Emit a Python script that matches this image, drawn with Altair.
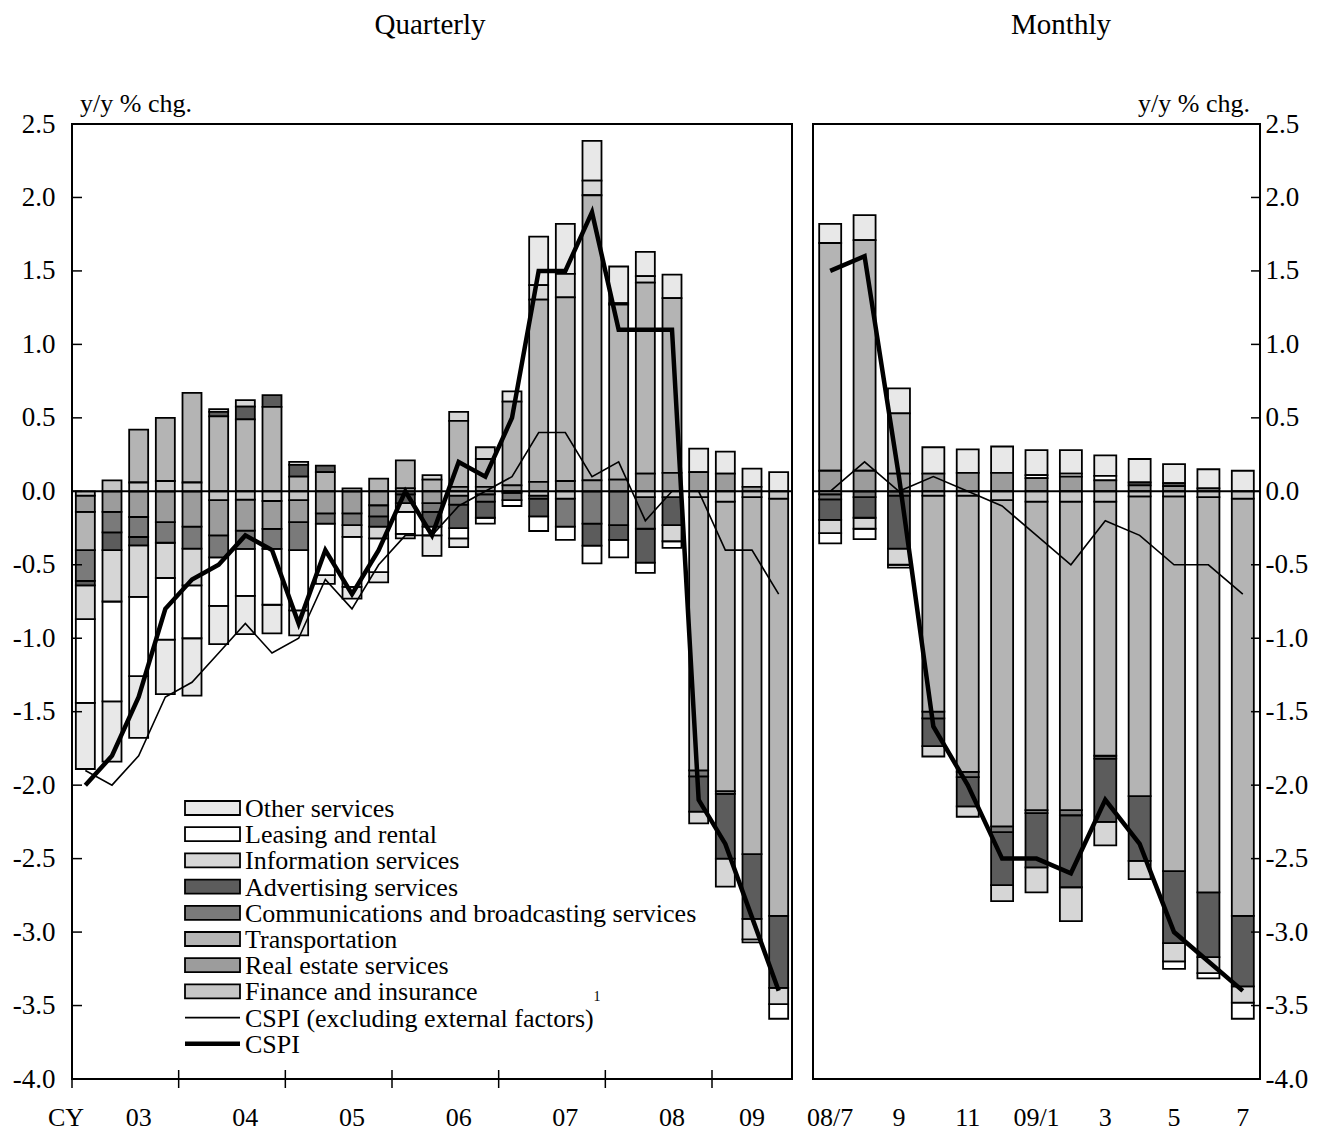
import altair as alt
import pandas as pd

FONT = "Times New Roman, Liberation Serif, DejaVu Serif, serif"

quarters = ["2003Q1", "2003Q2", "2003Q3", "2003Q4", "2004Q1", "2004Q2", "2004Q3", "2004Q4",
            "2005Q1", "2005Q2", "2005Q3", "2005Q4", "2006Q1", "2006Q2", "2006Q3", "2006Q4",
            "2007Q1", "2007Q2", "2007Q3", "2007Q4", "2008Q1", "2008Q2", "2008Q3", "2008Q4",
            "2009Q1", "2009Q2", "2009Q3"]
months = ["2008-07", "2008-08", "2008-09", "2008-10", "2008-11", "2008-12", "2009-01",
          "2009-02", "2009-03", "2009-04", "2009-05", "2009-06", "2009-07"]

# legend order (top -> bottom); stacking goes the other way (finance nearest zero)
categories = ["Other services", "Leasing and rental", "Information services",
              "Advertising services", "Communications and broadcasting services",
              "Transportation", "Real estate services", "Finance  and  insurance"]
cat_colors = ["#e8e8e8", "#ffffff", "#d6d6d6", "#5c5c5c", "#7a7a7a", "#b4b4b4", "#9c9c9c", "#c6c6c6"]

# ---- quarterly contributions (y/y % chg.) ----
q_other = [-0.45, -0.41, -0.42, -0.37, -0.39, -0.26, -0.26, -0.195, -0.17, -0.06, -0.08, -0.07, -0.03, -0.14,
           -0.06, 0, 0.07, 0.33, 0.34, 0.27, 0.25, 0.165, 0.16, 0.16, 0.15, 0.125, 0.13]
q_leasing = [-0.57, -0.68, -0.54, -0.42, -0.36, -0.33, -0.32, -0.38, -0.41, -0.35, -0.34, -0.23, -0.15, -0.06,
             -0.07, -0.04, -0.04, -0.10, -0.09, -0.12, -0.12, -0.07, -0.045, 0, 0, -0.02, -0.10]
q_info = [-0.23, -0.35, -0.35, -0.24, -0.25, 0.02, 0.045, 0, 0.02, 0, -0.08, -0.08, -0.06, 0.03,
          0.06, 0.08, 0, 0.10, 0.16, 0.10, 0.01, 0.045, -0.11, -0.08, -0.19, -0.14, -0.11]
q_advert = [-0.03, -0.12, -0.057, 0, 0, 0.03, 0.086, 0.08, 0.08, 0.045, 0, -0.07, -0.06, -0.10,
            -0.16, -0.11, 0, -0.12, 0, -0.15, -0.10, -0.23, -0.19, -0.24, -0.44, -0.44, -0.49]
q_comm = [-0.21, -0.14, -0.136, -0.14, -0.15, -0.15, -0.125, -0.136, -0.19, -0.07, -0.08, -0.075, 0, -0.06,
          -0.06, -0.05, -0.05, -0.02, -0.19, -0.22, -0.23, -0.215, 0, -0.04, -0.02, 0, 0]
q_transport = [-0.26, 0, 0.36, 0.43, 0.61, 0.51, 0.49, 0.574, 0.10, 0.13, 0, 0.086, 0.19, 0.08,
               0.45, 0.19, 0.57, 1.24, 1.25, 1.94, 1.19, 1.30, 1.19, -1.86, -1.97, -2.43, -2.84]
q_realestate = [-0.11, -0.14, -0.175, -0.21, -0.24, -0.24, -0.21, -0.19, -0.15, -0.15, -0.15, -0.095, -0.02, -0.08,
                0.03, 0.03, 0.04, 0.064, 0.07, 0.075, 0.08, 0.12, 0.125, 0.13, 0.12, 0.03, 0]
q_finance = [-0.03, 0.075, 0.06, 0.07, 0.06, -0.06, -0.057, -0.066, -0.06, 0, 0.02, 0, 0.02, 0,
             -0.03, -0.02, -0.01, -0.03, -0.05, 0, 0, -0.04, -0.04, -0.04, -0.07, -0.04, -0.05]
q_cspi = [-2.0, -1.8, -1.4, -0.8, -0.6, -0.5, -0.3, -0.4, -0.9, -0.4, -0.7, -0.4, 0.0, -0.3,
          0.2, 0.1, 0.5, 1.5, 1.5, 1.9, 1.1, 1.1, 1.1, -2.1, -2.4, -2.9, -3.4]
q_cspi_ex = [-1.9, -2.0, -1.8, -1.4, -1.3, -1.1, -0.9, -1.1, -1.0, -0.6, -0.8, -0.5, -0.3, -0.3,
             -0.1, 0.0, 0.1, 0.4, 0.4, 0.1, 0.2, -0.2, 0.0, 0.0, -0.4, -0.4, -0.7]

# ---- monthly contributions ----
m_other = [0.13, 0.17, 0.17, 0.18, 0.16, 0.18, 0.17, 0.16, 0.14, 0.16, 0.13, 0.13, 0.14]
m_leasing = [-0.07, -0.07, -0.02, 0, 0, 0, 0.02, 0.02, 0.03, 0, -0.05, -0.035, -0.11]
m_info = [-0.09, -0.075, -0.11, -0.07, -0.07, -0.11, -0.17, -0.23, -0.16, -0.125, -0.125, -0.11, -0.11]
m_advert = [-0.14, -0.14, -0.36, -0.19, -0.20, -0.36, -0.37, -0.49, -0.43, -0.44, -0.49, -0.44, -0.48]
m_comm = [-0.035, -0.04, -0.03, -0.045, -0.035, -0.04, -0.02, -0.035, -0.02, 0.02, 0.02, 0, 0]
m_transport = [1.55, 1.57, 0.41, -1.47, -1.88, -2.22, -2.10, -2.10, -1.73, -2.04, -2.55, -2.69, -2.84]
m_realestate = [0.14, 0.14, 0.12, 0.12, 0.125, 0.125, 0.09, 0.10, 0.075, 0.04, 0.035, 0.02, 0]
m_finance = [-0.02, 0, 0, -0.03, -0.03, -0.06, -0.07, -0.07, -0.07, -0.035, -0.035, -0.04, -0.05]
m_cspi = [1.5, 1.6, 0.1, -1.6, -2.0, -2.5, -2.5, -2.6, -2.1, -2.4, -3.0, -3.2, -3.4]
m_cspi_ex = [0.0, 0.2, 0.0, 0.1, 0.0, -0.1, -0.3, -0.5, -0.2, -0.3, -0.5, -0.5, -0.7]

y_ticks = [-4.0, -3.5, -3.0, -2.5, -2.0, -1.5, -1.0, -0.5, 0.0, 0.5, 1.0, 1.5, 2.0, 2.5]
q_label_periods = ["2003Q3", "2004Q3", "2005Q3", "2006Q3", "2007Q3", "2008Q3", "2009Q2"]
q_labels = ["03", "04", "05", "06", "07", "08", "09"]
q_year_starts = ["2003Q1", "2004Q1", "2005Q1", "2006Q1", "2007Q1", "2008Q1", "2009Q1"]
m_label_periods = ["2008-07", "2008-09", "2008-11", "2009-01", "2009-03", "2009-05", "2009-07"]
m_labels = ["08/7", "9", "11", "09/1", "3", "5", "7"]

legend_lines = ["CSPI (excluding external factors)", "CSPI"]

H = 955
WQ = 720
WM = 447


def long_df(periods, series):
    rows = []
    for k, cat in enumerate(categories):
        order = len(categories) - 1 - k
        for p, v in zip(periods, series[k]):
            rows.append({"period": p, "cat": cat, "value": v, "order": order})
    return pd.DataFrame(rows)


q_df = long_df(quarters, [q_other, q_leasing, q_info, q_advert, q_comm, q_transport, q_realestate, q_finance])
m_df = long_df(months, [m_other, m_leasing, m_info, m_advert, m_comm, m_transport, m_realestate, m_finance])
q_lines = pd.DataFrame({"period": quarters, "cspi": q_cspi, "cspi_ex": q_cspi_ex})
m_lines = pd.DataFrame({"period": months, "cspi": m_cspi, "cspi_ex": m_cspi_ex})
one = pd.DataFrame({"a": [0]})

yscale = alt.Scale(domain=[-4.0, 2.5], nice=False, zero=False)
label_expr = "(datum.value < 0 ? '-' : '') + format(abs(datum.value), '.1f')"


def yaxis(orient, pad):
    return alt.Axis(values=y_ticks, orient=orient, ticks=False, domain=False, grid=False,
                    labelPadding=pad, title=None, labelFont=FONT, labelFontSize=27,
                    labelColor="black", labelOverlap=False, labelExpr=label_expr)


def txt(s, x, y, size=26, align="left", baseline="middle"):
    return alt.Chart(one).mark_text(text=s, font=FONT, fontSize=size, align=align,
                                    baseline=baseline, color="black").encode(
        x=alt.value(x), y=alt.value(y))


def panel(periods, df, lines, bar_size, width, orient, labels_p, labels, tick_x, year_starts):
    xs = alt.Scale(type="band", domain=periods, paddingInner=0, paddingOuter=0)

    def X(**kw):
        return alt.X("period:N", scale=xs, axis=None, **kw)

    bars = alt.Chart(df).transform_filter("datum.value != 0").mark_bar(
        size=bar_size, stroke="black", strokeWidth=1.8).encode(
        x=X(),
        y=alt.Y("value:Q", stack="zero", scale=yscale,
                axis=yaxis(orient, 17 if orient == "left" else 5)),
        color=alt.Color("cat:N", scale=alt.Scale(domain=categories, range=cat_colors), legend=None),
        order=alt.Order("order:Q", sort="ascending"),
    )
    zero = alt.Chart(pd.DataFrame({"z": [0.0]})).mark_rule(color="black", strokeWidth=2).encode(
        y=alt.Y("z:Q", scale=yscale))
    thin = alt.Chart(lines).mark_line(color="black", strokeWidth=1.6).encode(
        x=X(bandPosition=0.5), y=alt.Y("cspi_ex:Q", scale=yscale))
    thick = alt.Chart(lines).mark_line(color="black", strokeWidth=4.5).encode(
        x=X(bandPosition=0.5), y=alt.Y("cspi:Q", scale=yscale))
    yt = alt.Chart(pd.DataFrame({"t": y_ticks})).mark_rule(color="black", strokeWidth=1.5).encode(
        y=alt.Y("t:Q", scale=yscale), x=alt.value(tick_x[0]), x2=alt.value(tick_x[1]))
    xl = alt.Chart(pd.DataFrame({"period": labels_p, "lab": labels})).mark_text(
        font=FONT, fontSize=26, baseline="middle", align="center", color="black").encode(
        x=X(bandPosition=0.5), y=alt.value(H + 39), text="lab:N")
    layers = [bars, zero, thin, thick, yt, xl]
    if year_starts:
        xt = alt.Chart(pd.DataFrame({"period": year_starts})).mark_rule(
            color="black", strokeWidth=1.5).encode(
            x=X(bandPosition=0), y=alt.value(H - 9), y2=alt.value(H + 9))
        layers.append(xt)
    return alt.layer(*layers).properties(width=width, height=H)


left = panel(quarters, q_df, q_lines, 19, WQ, "left", q_label_periods, q_labels, (0, 10), q_year_starts)
right = panel(months, m_df, m_lines, 22, WM, "right", m_label_periods, m_labels, (WM - 9, WM), None)

# annotations and legend for left panel
ann_left = [
    txt("Quarterly", 358, -99, size=29, align="center"),
    txt("y/y % chg.", 8, -20, size=26),
    txt("CY", -6, H + 39, size=26, align="center"),
]
leg = []
y0 = 684
step = 26.2
for k, (cat, col) in enumerate(zip(categories, cat_colors)):
    yc = y0 + k * step
    leg.append(alt.Chart(one).mark_rect(fill=col, stroke="black", strokeWidth=1.8).encode(
        x=alt.value(113), x2=alt.value(168), y=alt.value(yc - 7), y2=alt.value(yc + 7)))
    leg.append(txt(cat, 173, yc + 1))
for k, (lab, sw) in enumerate(zip(legend_lines, [1.6, 4.5])):
    yc = y0 + (8 + k) * step
    leg.append(alt.Chart(one).mark_rule(color="black", strokeWidth=sw).encode(
        x=alt.value(113), x2=alt.value(168), y=alt.value(yc)))
    leg.append(txt(lab, 173, yc + 1))
leg.append(txt("1", 525, 873, size=14, align="center"))

left = alt.layer(left, *ann_left, *leg)
right = alt.layer(right,
                  txt("Monthly", 248, -99, size=29, align="center"),
                  txt("y/y % chg.", 437, -20, size=26, align="right"))

chart = alt.hconcat(left, right, spacing=12).resolve_scale(
    x="independent", y="independent", color="shared"
).properties(
    padding={"left": 3, "top": 2, "right": 5, "bottom": 5}
).configure_view(stroke="black", strokeWidth=2)

chart.save("out.html", embed_options={"renderer": "svg", "actions": False})
